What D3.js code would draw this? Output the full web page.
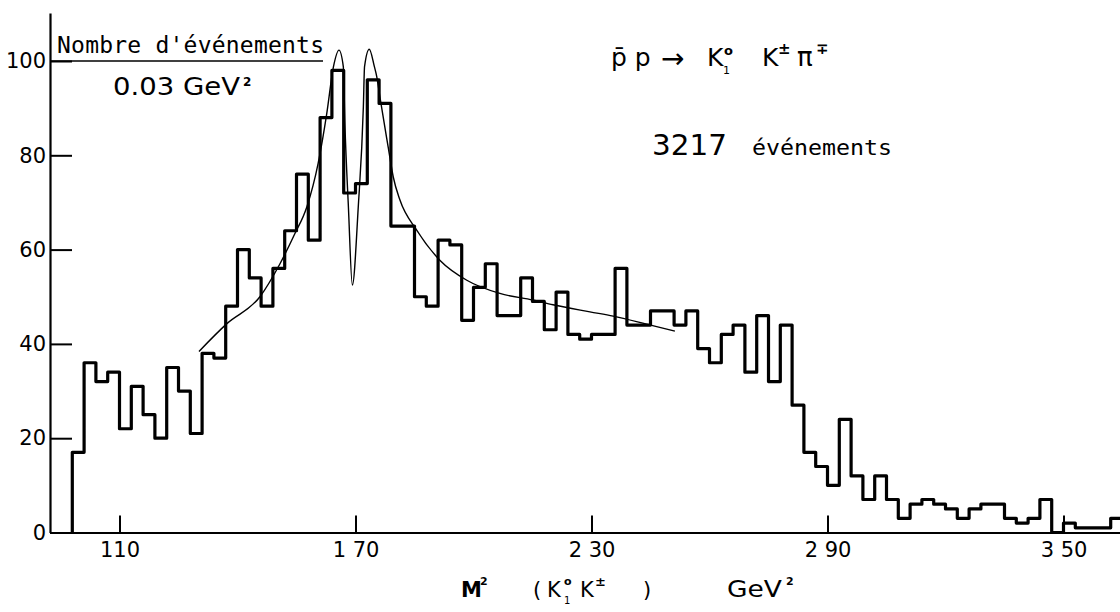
<!DOCTYPE html>
<html>
<head>
<meta charset="utf-8">
<script src="https://cdn.jsdelivr.net/npm/d3@7"></script>
<style>
  body { margin: 0; background: #fff; }
  svg { display: block; }
  text { fill: #000; }
</style>
</head>
<body>
<svg id="chart" width="1120" height="612"></svg>
<script>
// Histogram: events per 0.03 GeV^2 bin of M^2(K1 K±), starting at threshold
const binStart = 0.98;
const binWidth = 0.03;
const counts = [
  17, 36, 32, 34, 22, 31, 25, 20, 35, 30,
  21, 38, 37, 48, 60, 54, 48, 56, 64, 76,
  62, 88, 98, 72, 74, 96, 91, 65, 65, 50,
  48, 62, 61, 45, 52, 57, 46, 46, 54, 49,
  43, 51, 42, 41, 42, 42, 56, 44, 44, 47,
  47, 44, 47, 39, 36, 42, 44, 34, 46, 32,
  44, 27, 17, 14, 10, 24, 12, 7, 12, 7,
  3, 6, 7, 6, 5, 3, 5, 6, 6, 3,
  2, 3, 7, 0, 2, 1, 1, 1, 3
];

// Fitted curve (two narrow resonances on a smooth background)
const fitMass = [
  1.302, 1.373, 1.457, 1.508, 1.546, 1.576, 1.605, 1.627, 1.644, 1.658,
  1.669, 1.673, 1.682, 1.692, 1.707, 1.720, 1.723, 1.735, 1.748, 1.754,
  1.762, 1.783, 1.796, 1.813, 1.856, 1.915, 1.983, 2.067, 2.151, 2.202,
  2.296, 2.355, 2.440, 2.512
];
const fitValue = [
  38.4, 44.3, 50.0, 57.0, 63.4, 69.0, 78.3, 88.9, 98.8, 102.3,
  98.8, 86.8, 69.0, 52.5, 69.0, 90.3, 98.8, 102.5, 98.8, 96.7,
  92.4, 81.8, 75.4, 70.5, 64.1, 57.7, 53.5, 50.7, 49.3, 48.3,
  46.8, 45.9, 44.2, 42.7
];

const xTicks = [1.10, 1.70, 2.30, 2.90, 3.50];
const xTickLabels = ["110", "1 70", "2 30", "2 90", "3 50"];
const yTicks = [0, 20, 40, 60, 80, 100];

const svg = d3.select("#chart");
const numFont = "'DejaVu Sans', sans-serif";
const monoFont = "'DejaVu Sans Mono', monospace";

const x = d3.scaleLinear().domain([1.10, 3.50]).range([119.5, 1063.5]);
const y = d3.scaleLinear().domain([0, 100]).range([532.5, 61]);

// Axes
const xAxisScale = d3.scaleLinear().domain([x.invert(50), x.invert(1120)]).range([50, 1120]);
const yAxisScale = d3.scaleLinear().domain([0, y.invert(13)]).range([532.5, 13]);

const gx = svg.append("g")
  .attr("transform", `translate(0,${y(0)})`)
  .call(d3.axisBottom(xAxisScale)
    .tickValues(xTicks)
    .tickFormat((d, i) => xTickLabels[i])
    .tickSizeInner(-17)
    .tickSizeOuter(0)
    .tickPadding(10));

const gy = svg.append("g")
  .attr("transform", `translate(${xAxisScale(xAxisScale.domain()[0])},0)`)
  .call(d3.axisLeft(yAxisScale)
    .tickValues(yTicks)
    .tickFormat(d3.format("d"))
    .tickSizeInner(-22)
    .tickSizeOuter(0)
    .tickPadding(4));

[gx, gy].forEach(g => {
  g.select(".domain").attr("stroke", "#000").attr("stroke-width", 2.2);
  g.selectAll(".tick line").attr("stroke", "#000").attr("stroke-width", 2);
  g.selectAll(".tick text")
    .attr("font-family", numFont)
    .attr("font-size", 21)
    .attr("fill", "#000");
});

// Histogram outline as a step path
const histPts = [[binStart, 0]];
counts.forEach((c, i) => {
  const lo = binStart + i * binWidth;
  histPts.push([lo, c], [lo + binWidth, c]);
});
svg.append("path")
  .datum(histPts)
  .attr("fill", "none")
  .attr("stroke", "#000")
  .attr("stroke-width", 3.2)
  .attr("stroke-linejoin", "round")
  .attr("d", d3.line().x(d => x(d[0])).y(d => y(d[1])));

// Fit curve
svg.append("path")
  .datum(fitMass.map((m, i) => [m, fitValue[i]]))
  .attr("fill", "none")
  .attr("stroke", "#000")
  .attr("stroke-width", 1.4)
  .attr("d", d3.line().x(d => x(d[0])).y(d => y(d[1])).curve(d3.curveMonotoneX));

// Text helper: a <text> made of positioned pieces
function label(px, py, pieces) {
  const t = svg.append("text").attr("x", px).attr("y", py);
  pieces.forEach(p => {
    const s = t.append("tspan")
      .attr("font-family", p.family || numFont)
      .attr("font-size", p.size)
      .attr("font-weight", p.weight || "normal")
      .text(p.text);
    if (p.x !== undefined) s.attr("x", p.x);
    if (p.y !== undefined) s.attr("y", p.y);
    if (p.len !== undefined) s.attr("textLength", p.len).attr("lengthAdjust", "spacingAndGlyphs");
  });
  return t;
}

// Y-axis unit label: events / 0.03 GeV^2
svg.append("text")
  .attr("x", 57).attr("y", 53)
  .attr("font-family", monoFont).attr("font-size", 23)
  .attr("textLength", 267).attr("lengthAdjust", "spacing")
  .text("Nombre d'événements");
svg.append("line")
  .attr("x1", 50).attr("x2", 323)
  .attr("y1", y(100)).attr("y2", y(100))
  .attr("stroke", "#000").attr("stroke-width", 1.6);
label(113, 95, [
  { text: "0.03 GeV", size: 25, len: 127 },
  { text: "2", size: 12, weight: "bold", x: 243, y: 86 }
]);

// Reaction
label(611, 66, [
  { text: "p\u0304 p", size: 25 },
  { text: "\u2192", size: 28, x: 661, y: 68 },
  { text: "K", size: 25, x: 707, y: 66 },
  { text: "o", size: 13, weight: "bold", x: 724, y: 55 },
  { text: "1", size: 11, x: 723, y: 74 },
  { text: "K", size: 25, x: 762, y: 66 },
  { text: "\u00b1", size: 15, weight: "bold", x: 778, y: 54 },
  { text: "\u03c0", size: 26, x: 797, y: 66 },
  { text: "\u2213", size: 15, weight: "bold", x: 816, y: 54 }
]);

label(652, 155, [
  { text: "3217", size: 29, len: 75 },
  { text: "événements", size: 22, family: monoFont, x: 752, len: 140 }
]);

// X-axis title: M^2 (K1 K±) GeV^2
label(461, 597, [
  { text: "M", size: 21, weight: "bold" },
  { text: "2", size: 11, weight: "bold", x: 480, y: 585 },
  { text: "(", size: 21, x: 533, y: 597 },
  { text: "K", size: 21, x: 547, y: 597 },
  { text: "o", size: 11, weight: "bold", x: 564, y: 585 },
  { text: "1", size: 10, x: 564, y: 604 },
  { text: "K", size: 21, x: 580, y: 597 },
  { text: "\u00b1", size: 13, weight: "bold", x: 595, y: 586 },
  { text: ")", size: 21, x: 643, y: 597 },
  { text: "GeV", size: 23, x: 727, y: 597, len: 55 },
  { text: "2", size: 11, weight: "bold", x: 786, y: 585 }
]);
</script>
</body>
</html>
